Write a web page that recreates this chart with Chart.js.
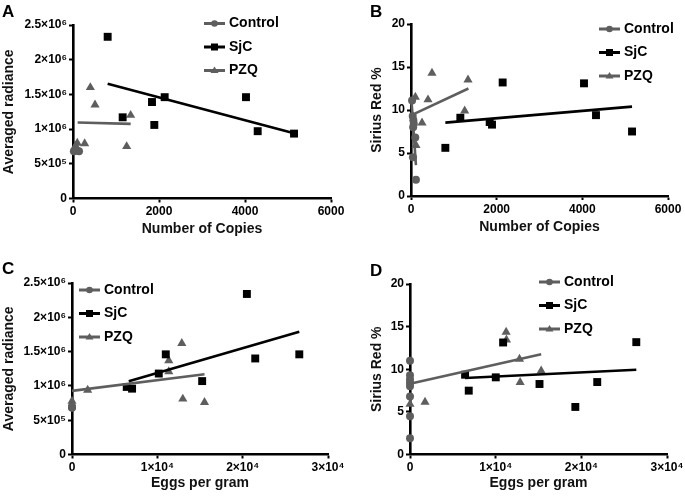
<!DOCTYPE html>
<html>
<head>
<meta charset="utf-8">
<script src="https://cdn.jsdelivr.net/npm/chart.js@4.4.0/dist/chart.umd.min.js"></script>
<style>
  body { margin: 0; background: #fff; }
  #wrap { position: relative; width: 685px; height: 496px; overflow: hidden; }
  canvas { position: absolute; }
</style>
</head>
<body>
<div id="wrap">
  <canvas id="chartA" width="360" height="248" style="left:0;top:0"></canvas>
  <canvas id="chartB" width="343" height="248" style="left:342px;top:0"></canvas>
  <canvas id="chartC" width="360" height="248" style="left:0;top:248px"></canvas>
  <canvas id="chartD" width="343" height="248" style="left:342px;top:248px"></canvas>
</div>
<script>
/* tick values */
const copiesTicks = [0, 2000, 4000, 6000];
const eggTicks = [0, 10000, 20000, 30000];
const radianceTicks = [0, 5e5, 1e6, 1.5e6, 2e6, 2.5e6];
const siriusTicks = [0, 5, 10, 15, 20];

const seriesNames = ['Control', 'SjC', 'PZQ'];

/* A: number of copies vs averaged radiance */
const aCtrlX = [20, 50, 80, 140];
const aCtrlY = [6.8e5, 7.0e5, 6.9e5, 6.8e5];
const aSjcX = [806, 1155, 1837, 1891, 2132, 4023, 4295, 5140];
const aSjcY = [2.33e6, 1.17e6, 1.39e6, 1.06e6, 1.46e6, 1.46e6, 0.97e6, 0.935e6];
const aPzqX = [403, 512, 1341, 1248, 271, 100, 60];
const aPzqY = [1.60e6, 1.35e6, 1.20e6, 0.75e6, 0.79e6, 0.80e6, 0.76e6];
const aSjcFitX = [806, 5140];
const aSjcFitY = [1.655e6, 0.94e6];
const aPzqFitX = [108, 1341];
const aPzqFitY = [1.095e6, 1.075e6];

/* B: number of copies vs Sirius Red % */
const bCtrlX = [25, 40, 55, 65, 50, 100, 45, 115];
const bCtrlY = [11.1, 9.3, 8.8, 8.4, 8.0, 6.8, 4.5, 1.9];
const bSjcX = [802, 1152, 1837, 1891, 2140, 4039, 4319, 5160];
const bSjcY = [5.6, 9.1, 8.6, 8.3, 13.2, 13.1, 9.4, 7.5];
const bPzqX = [490, 1331, 397, 1253, 257, 101, 117];
const bPzqY = [14.3, 13.5, 11.2, 9.9, 8.5, 11.5, 5.9];
const bCtrlFitX = [15, 115];
const bCtrlFitY = [10.8, 3.6];
const bSjcFitX = [802, 5160];
const bSjcFitY = [8.53, 10.39];
const bPzqFitX = [100, 1341];
const bPzqFitY = [9.6, 12.5];

/* C: eggs per gram vs averaged radiance */
const cCtrlX = [0, 0, 0];
const cCtrlY = [6.8e5, 7.0e5, 6.9e5];
const cSjcX = [20495, 10991, 10170, 21473, 26636, 15254, 6415, 7040];
const cSjcY = [2.34e6, 1.46e6, 1.18e6, 1.40e6, 1.46e6, 1.07e6, 0.985e6, 0.96e6];
const cPzqX = [12868, 11343, 11343, 12986, 15528, 1838, 0];
const cPzqY = [1.62e6, 1.37e6, 1.21e6, 0.81e6, 0.76e6, 0.94e6, 0.78e6];
const cSjcFitX = [6650, 26636];
const cSjcFitY = [1.067e6, 1.79e6];
const cPzqFitX = [0, 15528];
const cPzqFitY = [0.928e6, 1.17e6];

/* D: eggs per gram vs Sirius Red % */
const dCtrlX = [0, 0, 0, 0, 0, 0, 0, 0];
const dCtrlY = [11.0, 9.3, 8.8, 8.4, 8.0, 6.8, 4.5, 1.9];
const dSjcX = [6429, 6857, 10013, 10870, 15117, 19300, 21857, 26416];
const dSjcY = [9.36, 7.49, 9.05, 13.14, 8.27, 5.58, 8.5, 13.18];
const dPzqX = [11221, 11260, 12779, 12857, 15312, 1753, 0];
const dPzqY = [14.35, 13.45, 11.19, 8.46, 9.82, 6.16, 5.9];
const dSjcFitX = [6429, 26416];
const dSjcFitY = [8.97, 9.94];
const dPzqFitX = [0, 15312];
const dPzqFitY = [8.3, 11.77];

const FONT = '"Liberation Sans", Arial, sans-serif';
const GREY = '#5e5e5e';
const SUP = { '0': '⁰', '1': '¹', '2': '²', '3': '³', '4': '⁴', '5': '⁵', '6': '⁶', '7': '⁷', '8': '⁸', '9': '⁹' };

// 1.5e6 -> "1.5×10⁶"
function sciLabel(v) {
  if (v === 0) return '0';
  const e = Math.floor(Math.log10(v) + 1e-9);
  const m = +(v / Math.pow(10, e)).toFixed(2);
  return m + '×10' + String(e).split('').map(d => SUP[d]).join('');
}
const plainLabel = v => String(v);

const zip = (xs, ys) => xs.map((x, i) => ({ x, y: ys[i] }));

function pts(xs, ys, style, color, r) {
  return {
    data: zip(xs, ys), showLine: false, pointStyle: style, pointRadius: r, pointHoverRadius: r,
    backgroundColor: color, borderColor: color, borderWidth: 0, clip: false
  };
}
function fit(xs, ys, color) {
  return {
    data: zip(xs, ys), showLine: true, pointRadius: 0, borderColor: color,
    borderWidth: 2.6, fill: false, clip: false
  };
}

// panel decoration: letter + legend with line-and-marker keys
const panelDecor = {
  id: 'panelDecor',
  afterDraw(chart, args, o) {
    const c = chart.ctx;
    c.save();
    c.fillStyle = '#000';
    c.textBaseline = 'top';
    c.font = 'bold 17px ' + FONT;
    c.fillText(o.letter, o.letterX, o.letterY);
    c.font = 'bold 14px ' + FONT;
    c.textBaseline = 'middle';
    const keys = [
      { color: GREY, style: 'circle' },
      { color: '#000', style: 'rect' },
      { color: GREY, style: 'triangle' }
    ];
    keys.forEach((k, i) => {
      const y = o.legendY + i * 23.5;
      const x = o.legendX;
      c.strokeStyle = k.color;
      c.fillStyle = k.color;
      c.lineWidth = 3;
      c.beginPath(); c.moveTo(x, y); c.lineTo(x + 21, y); c.stroke();
      const mx = x + 10.5;
      c.beginPath();
      if (k.style === 'circle') c.arc(mx, y, 3.3, 0, Math.PI * 2);
      else if (k.style === 'rect') c.rect(mx - 3.5, y - 3.5, 7, 7);
      else { c.moveTo(mx, y - 4); c.lineTo(mx + 4, y + 2.5); c.lineTo(mx - 4, y + 2.5); c.closePath(); }
      c.fill();
      c.fillStyle = '#000';
      c.fillText(seriesNames[i], x + 25, y);
    });
    c.restore();
  }
};

function makePanel(id, p) {
  const H = 248;
  const W = document.getElementById(id).width;
  const tickFont = { family: FONT, size: 12, weight: 'bold' };
  const titleFont = { family: FONT, size: 14, weight: 'bold' };
  const gridOpts = { drawOnChartArea: false, tickLength: 4, tickWidth: 2, tickColor: '#000' };
  new Chart(document.getElementById(id), {
    type: 'scatter',
    data: {
      datasets: [
        fit(p.sjcFit[0], p.sjcFit[1], '#000'),
        fit(p.pzqFit[0], p.pzqFit[1], GREY),
        ...(p.ctrlFit ? [fit(p.ctrlFit[0], p.ctrlFit[1], GREY)] : []),
        pts(p.ctrl[0], p.ctrl[1], 'circle', GREY, 4),
        pts(p.sjc[0], p.sjc[1], 'rect', '#000', 5.6),
        pts(p.pzq[0], p.pzq[1], 'triangle', GREY, 5.3)
      ]
    },
    options: {
      responsive: false,
      animation: false,
      devicePixelRatio: 1,
      layout: { padding: { left: p.yTitleLeft, top: p.top, right: W - p.right, bottom: H - p.xTitleY - 8.4 } },
      plugins: {
        legend: { display: false },
        tooltip: { enabled: false },
        panelDecor: { letter: p.letter, letterX: p.letterX, letterY: p.letterY, legendX: p.legendX, legendY: p.legendY }
      },
      scales: {
        x: {
          type: 'linear', min: p.xTicks[0], max: p.xTicks[p.xTicks.length - 1],
          afterBuildTicks: s => { s.ticks = p.xTicks.map(v => ({ value: v })); },
          border: { color: '#000', width: 2.6 },
          grid: gridOpts,
          ticks: { color: '#000', font: tickFont, padding: 2, maxRotation: 0, autoSkip: false, callback: p.xFmt },
          title: { display: true, text: p.xTitle, color: '#111', font: titleFont, padding: 0 },
          afterFit: s => {
            s.height = (H - p.xTitleY - 8.4 > 0 ? p.xTitleY + 8.4 : H) - p.bottom;
            s.paddingLeft = 0; s.paddingRight = 0;
          }
        },
        y: {
          type: 'linear', min: p.yTicks[0], max: p.yTicks[p.yTicks.length - 1],
          afterBuildTicks: s => { s.ticks = p.yTicks.map(v => ({ value: v })); },
          border: { color: '#000', width: 2.6 },
          grid: gridOpts,
          ticks: { color: '#000', font: tickFont, padding: 2, autoSkip: false, callback: p.yFmt },
          title: { display: true, text: p.yTitle, color: '#111', font: titleFont, padding: 0 },
          afterFit: s => {
            s.width = p.left - p.yTitleLeft;
            s.paddingTop = 0; s.paddingBottom = 0;
          }
        }
      }
    },
    plugins: [panelDecor]
  });
}

makePanel('chartA', {
  letter: 'A', letterX: 2, letterY: 4, legendX: 204, legendY: 23.5,
  left: 73, top: 25, right: 331, bottom: 198.5, xTitleY: 229, yTitleLeft: 0.5,
  xTicks: copiesTicks, yTicks: radianceTicks, xFmt: plainLabel, yFmt: sciLabel,
  xTitle: 'Number of Copies', yTitle: 'Averaged radiance',
  ctrl: [aCtrlX, aCtrlY], sjc: [aSjcX, aSjcY], pzq: [aPzqX, aPzqY],
  sjcFit: [aSjcFitX, aSjcFitY], pzqFit: [aPzqFitX, aPzqFitY]
});

makePanel('chartB', {
  letter: 'B', letterX: 28, letterY: 4, legendX: 257, legendY: 29,
  left: 69, top: 24, right: 326, bottom: 196, xTitleY: 227, yTitleLeft: 26.5,
  xTicks: copiesTicks, yTicks: siriusTicks, xFmt: plainLabel, yFmt: plainLabel,
  xTitle: 'Number of Copies', yTitle: 'Sirius Red %',
  ctrl: [bCtrlX, bCtrlY], sjc: [bSjcX, bSjcY], pzq: [bPzqX, bPzqY],
  sjcFit: [bSjcFitX, bSjcFitY], pzqFit: [bPzqFitX, bPzqFitY], ctrlFit: [bCtrlFitX, bCtrlFitY]
});

makePanel('chartC', {
  letter: 'C', letterX: 2, letterY: 13, legendX: 79, legendY: 42,
  left: 72, top: 35, right: 328, bottom: 206.5, xTitleY: 235, yTitleLeft: 0.5,
  xTicks: eggTicks, yTicks: radianceTicks, xFmt: sciLabel, yFmt: sciLabel,
  xTitle: 'Eggs per gram', yTitle: 'Averaged radiance',
  ctrl: [cCtrlX, cCtrlY], sjc: [cSjcX, cSjcY], pzq: [cPzqX, cPzqY],
  sjcFit: [cSjcFitX, cSjcFitY], pzqFit: [cPzqFitX, cPzqFitY]
});

makePanel('chartD', {
  letter: 'D', letterX: 28, letterY: 15, legendX: 197, legendY: 34,
  left: 68, top: 36, right: 325, bottom: 206.5, xTitleY: 235, yTitleLeft: 26.5,
  xTicks: eggTicks, yTicks: siriusTicks, xFmt: sciLabel, yFmt: plainLabel,
  xTitle: 'Eggs per gram', yTitle: 'Sirius Red %',
  ctrl: [dCtrlX, dCtrlY], sjc: [dSjcX, dSjcY], pzq: [dPzqX, dPzqY],
  sjcFit: [dSjcFitX, dSjcFitY], pzqFit: [dPzqFitX, dPzqFitY]
});
</script>
</body>
</html>
